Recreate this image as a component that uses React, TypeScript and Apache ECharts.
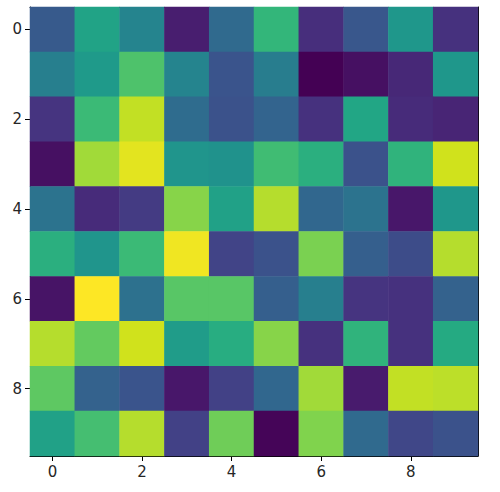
import React, { useEffect, useRef } from "react";
import * as echarts from "echarts";

const xCategories = ["0", "1", "2", "3", "4", "5", "6", "7", "8", "9"];
const yCategories = ["0", "1", "2", "3", "4", "5", "6", "7", "8", "9"];

const row0 = [0.28, 0.58, 0.45, 0.08, 0.34, 0.66, 0.13, 0.27, 0.53, 0.14];
const row1 = [0.43, 0.54, 0.72, 0.45, 0.26, 0.42, 0.0, 0.04, 0.11, 0.53];
const row2 = [0.15, 0.68, 0.91, 0.35, 0.25, 0.32, 0.14, 0.59, 0.12, 0.1];
const row3 = [0.04, 0.86, 0.96, 0.52, 0.51, 0.69, 0.63, 0.25, 0.65, 0.93];
const row4 = [0.38, 0.12, 0.17, 0.82, 0.57, 0.89, 0.33, 0.38, 0.06, 0.53];
const row5 = [0.63, 0.52, 0.68, 0.98, 0.2, 0.25, 0.8, 0.3, 0.23, 0.89];
const row6 = [0.05, 1.0, 0.37, 0.74, 0.74, 0.3, 0.43, 0.15, 0.14, 0.31];
const row7 = [0.89, 0.76, 0.93, 0.55, 0.62, 0.82, 0.14, 0.65, 0.14, 0.61];
const row8 = [0.75, 0.31, 0.26, 0.06, 0.19, 0.33, 0.86, 0.07, 0.91, 0.9];
const row9 = [0.57, 0.7, 0.89, 0.19, 0.78, 0.01, 0.81, 0.34, 0.21, 0.25];

const rows = [row0, row1, row2, row3, row4, row5, row6, row7, row8, row9];

const viridis = [
  "#440154", "#481a6c", "#472f7d", "#414487", "#39568c", "#31688e",
  "#2a788e", "#23888e", "#1f988b", "#22a884", "#35b779", "#54c568",
  "#7ad151", "#a5db36", "#d2e21b", "#fde725",
];

export default function App() {
  const ref = useRef<HTMLDivElement>(null);
  useEffect(() => {
    if (!ref.current) return;
    const chart = echarts.init(ref.current, null, { renderer: "svg" });
    const data: number[][] = [];
    rows.forEach((r, yi) => r.forEach((v, xi) => data.push([xi, yi, v])));
    const all = rows.flat();
    const mn = Math.min(...all);
    const mx = Math.max(...all);
    const labelStyle = {
      color: "#262626",
      fontSize: 15,
      fontFamily: "DejaVu Sans",
    };
    chart.setOption({
      animation: false,
      grid: { left: 30, top: 7, right: 22, bottom: 36 },
      visualMap: {
        show: false,
        min: mn,
        max: mx,
        dimension: 2,
        inRange: { color: viridis },
      },
      xAxis: [
        {
          type: "category",
          data: xCategories,
          position: "bottom",
          axisLine: { show: true, lineStyle: { color: "#000", width: 1 } },
          axisTick: {
            show: true,
            alignWithLabel: true,
            interval: 1,
            length: 5,
            lineStyle: { color: "#000" },
          },
          axisLabel: { ...labelStyle, interval: 1, margin: 8 },
          splitLine: { show: false },
        },
        {
          type: "category",
          data: xCategories,
          position: "top",
          axisLine: { show: true, lineStyle: { color: "#000", width: 1 } },
          axisTick: { show: false },
          axisLabel: { show: false },
        },
      ],
      yAxis: [
        {
          type: "category",
          data: yCategories,
          inverse: true,
          position: "left",
          axisLine: { show: true, lineStyle: { color: "#000", width: 1 } },
          axisTick: {
            show: true,
            alignWithLabel: true,
            interval: 1,
            length: 5,
            lineStyle: { color: "#000" },
          },
          axisLabel: { ...labelStyle, interval: 1, margin: 8 },
          splitLine: { show: false },
        },
        {
          type: "category",
          data: yCategories,
          inverse: true,
          position: "right",
          axisLine: { show: true, lineStyle: { color: "#000", width: 1 } },
          axisTick: { show: false },
          axisLabel: { show: false },
        },
      ],
      series: [
        {
          type: "heatmap",
          xAxisIndex: 0,
          yAxisIndex: 0,
          data,
          itemStyle: { borderWidth: 0 },
          z: 1,
        },
      ],
    });
    return () => chart.dispose();
  }, []);
  return <div ref={ref} style={{ width: 500, height: 492, position: "absolute", left: 0, top: 0 }} />;
}
